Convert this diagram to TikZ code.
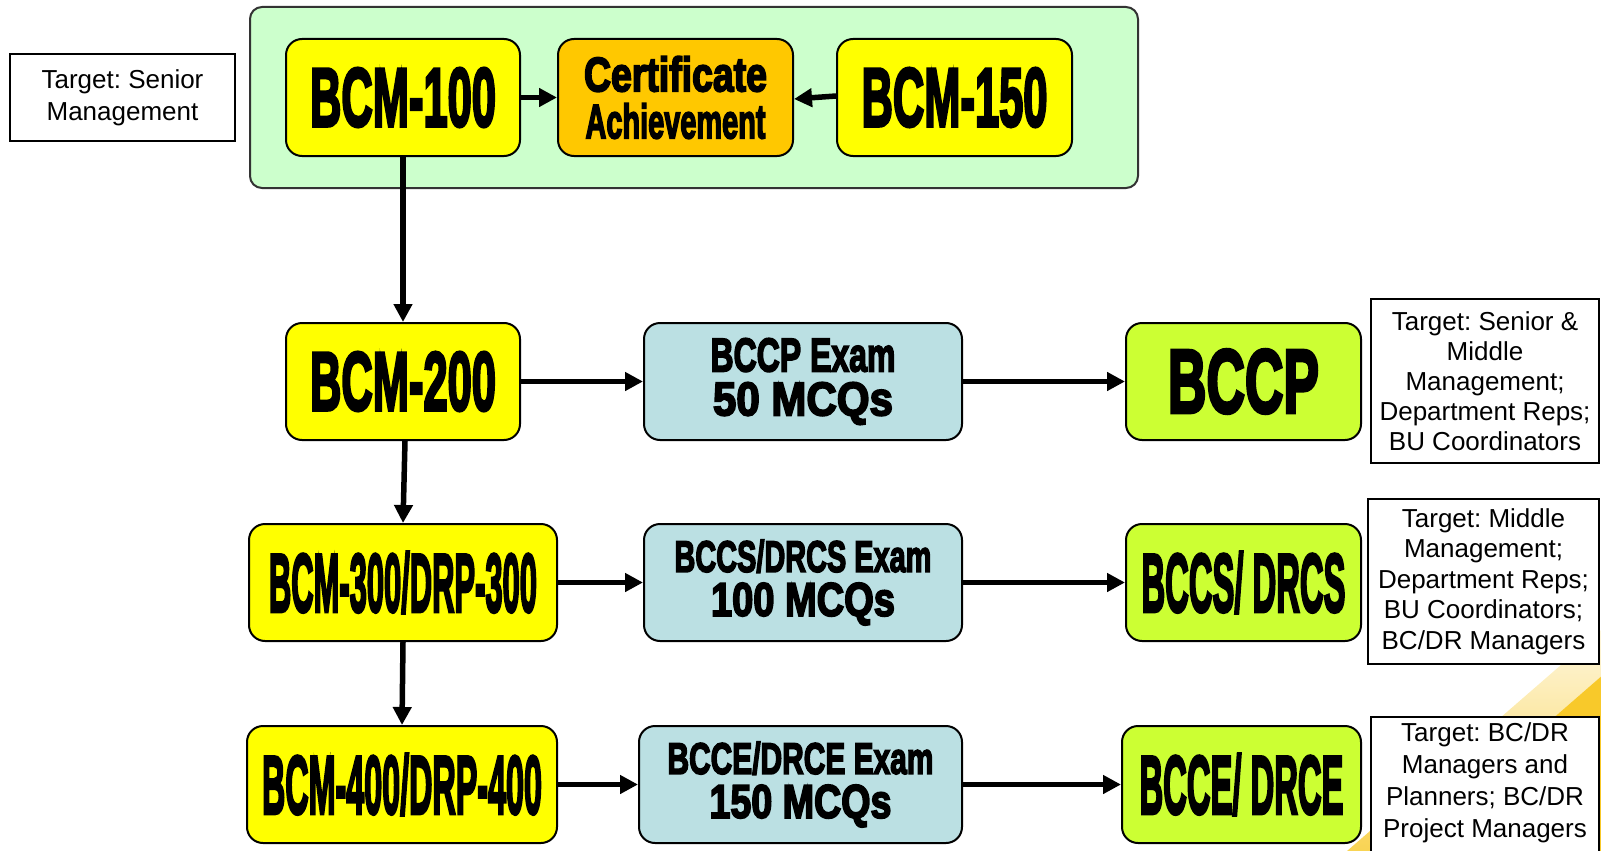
\documentclass[tikz,border=0pt]{standalone}
\usepackage{fontspec}
\usepackage{graphicx}
\setmainfont{Liberation Sans}
\newfontfamily\heavy{Liberation Sans Bold}[FakeBold=4]
\usetikzlibrary{arrows.meta}
\definecolor{ylw}{HTML}{FFFF00}
\definecolor{org}{HTML}{FFC800}
\definecolor{lblue}{HTML}{BBE0E3}
\definecolor{lime}{HTML}{CCFF33}
\definecolor{mint}{HTML}{CCFFCC}
\definecolor{gold}{HTML}{F8C92A}
\newcommand{\fitt}[3]{\resizebox{#1pt}{#2pt}{\heavy #3}}
\frenchspacing
\begin{document}
\begin{tikzpicture}[x=1pt,y=-1pt,
  box/.style={draw=black, line width=2pt, rounded corners=16pt, minimum height=117pt, inner sep=0pt, align=center},
  ybox/.style={box, fill=ylw},
  obox/.style={box, fill=org, font=\fontsize{30}{47}\selectfont},
  ebox/.style={box, fill=lblue, font=\fontsize{30}{44}\selectfont},
  cbox/.style={box, fill=lime},
  tgt/.style={draw=black, line width=1.8pt, fill=white, align=center, inner sep=0pt, font=\fontsize{26}{31}\selectfont},
  arr/.style={line width=5.5pt, -{Triangle[length=18pt,width=18pt]}},
]
\useasboundingbox (0,0) rectangle (1601,851);
\clip (0,0) rectangle (1601,851);
% background swoosh
\begin{scope}[shift={(1347,851)}, rotate=41, x=1pt, y=1pt]
  \shade[top color=white, bottom color=gold] (-60,0) rectangle (420,-35);
  \fill[gold] (-60,-35) rectangle (420,-400);
\end{scope}
% top group
\node[draw=black!80, line width=2pt, fill=mint, rounded corners=12pt, minimum width=888pt, minimum height=181pt] (grp) at (694,97.5) {};
\node[tgt, minimum width=225pt, minimum height=87pt, font=\fontsize{26}{32}\selectfont] (t1) at (122.5,97.5) {Target: Senior\\Management};
\node[ybox, minimum width=234pt] (b100) at (403,97.5) {\fitt{186}{58}{BCM-100}};
\node[obox, minimum width=235pt] (cert) at (675.5,97.5) {\fitt{183}{35}{Certificate}\\\fitt{180}{35}{Achievement}};
\node[ybox, minimum width=235pt] (b150) at (954.5,97.5) {\fitt{186}{58}{BCM-150}};
% row 2
\node[ybox, minimum width=234pt] (b200) at (403,381.5) {\fitt{186}{58}{BCM-200}};
\node[ebox, minimum width=318pt] (e1) at (803,381.5) {\fitt{185}{33}{BCCP Exam}\\\fitt{180}{33}{50 MCQs}};
\node[cbox, minimum width=235pt] (c1) at (1243.5,381.5) {\fitt{151}{63}{BCCP}};
\node[tgt, minimum width=228pt, minimum height=164pt, font=\fontsize{26}{30}\selectfont] (t2) at (1485,381) {Target: Senior \&\\Middle\\Management;\\Department Reps;\\BU Coordinators};
% row 3
\node[ybox, minimum width=308pt] (b300) at (403,582.5) {\fitt{268}{60}{BCM-300/DRP-300}};
\node[ebox, minimum width=318pt] (e2) at (803,582.5) {\fitt{257}{32}{BCCS/DRCS Exam}\\\fitt{184}{33}{100 MCQs}};
\node[cbox, minimum width=235pt] (c2) at (1243.5,582.5) {\fitt{204}{60}{BCCS/ DRCS}};
\node[tgt, minimum width=231pt, minimum height=165pt, font=\fontsize{26}{30.5}\selectfont] (t3) at (1483.5,581.5) {Target: Middle\\Management;\\Department Reps;\\BU Coordinators;\\BC/DR Managers};
% row 4
\node[ybox, minimum width=310pt] (b400) at (402,784.5) {\fitt{280}{60}{BCM-400/DRP-400}};
\node[ebox, minimum width=323pt] (e3) at (800.5,784.5) {\fitt{266}{32}{BCCE/DRCE Exam}\\\fitt{182}{33}{150 MCQs}};
\node[cbox, minimum width=239pt] (c3) at (1241.5,784.5) {\fitt{204}{60}{BCCE/ DRCE}};
\node[tgt, anchor=north, minimum width=228pt, inner ysep=6pt, font=\fontsize{26}{32}\selectfont] (t4) at (1485,716) {Target: BC/DR\\Managers and\\Planners; BC/DR\\Project Managers\rule[-40pt]{0pt}{40pt}};
% connectors
\draw[arr] (b100.east) -- (cert.west);
\draw[arr] ([yshift=1.5pt]b150.west) -- ([yshift=-1.5pt]cert.east);
\draw[arr] (b100.south) -- (b200.north);
\draw[arr] ([xshift=2pt]b200.south) -- (b300.north);
\draw[arr] (b300.south) -- (b400.north);
\draw[arr] (b200.east) -- (e1.west);
\draw[arr] (e1.east) -- (c1.west);
\draw[arr] (b300.east) -- (e2.west);
\draw[arr] (e2.east) -- (c2.west);
\draw[arr] (b400.east) -- (e3.west);
\draw[arr] (e3.east) -- (c3.west);
\end{tikzpicture}
\end{document}
